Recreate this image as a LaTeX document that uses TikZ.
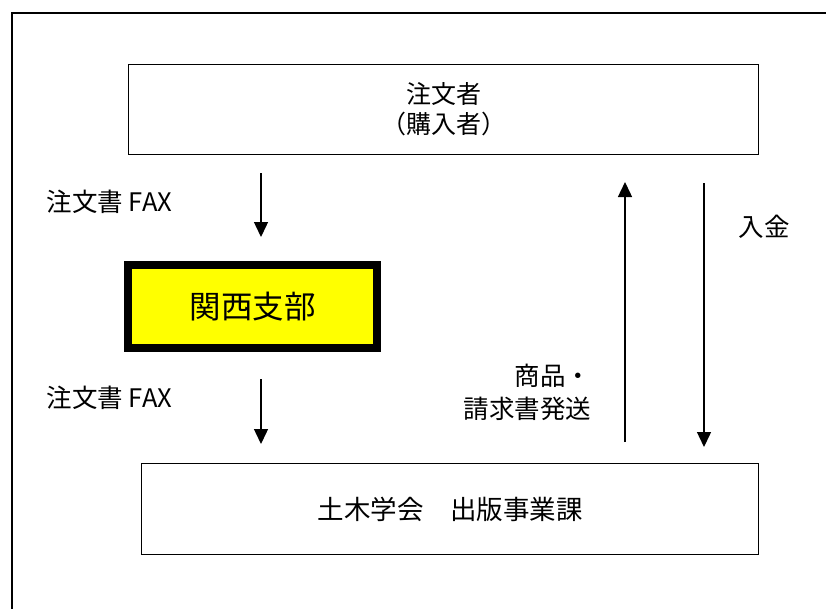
\documentclass[tikz,border=0pt]{standalone}
\usepackage{fontspec}
\setmainfont{Noto Sans CJK JP}
\usetikzlibrary{arrows.meta}

\definecolor{kansaiyellow}{RGB}{255,255,0}

\begin{document}
\begin{tikzpicture}[x=1pt,y=-1pt,>={Triangle[length=15pt,width=14pt]},line width=1.4pt]
  \tikzstyle{box}=[draw,line width=1.5pt,inner sep=0pt,font=\fontsize{25}{30}\selectfont,align=center]
  \tikzstyle{hot}=[draw,line width=8pt,fill=kansaiyellow,inner sep=0pt,font=\fontsize{31.5}{36}\selectfont]
  \tikzstyle{label}=[inner sep=0pt,font=\fontsize{25.5}{33}\selectfont]

  \clip (0,0) rectangle (826,608);
  \draw[line width=2pt] (840,13) -| (12,620);

  \node[box,minimum width=630pt,minimum height=90pt] (buyer) at (443.5,109.5) {注文者\\（購入者）};
  \node[hot,minimum width=249pt,minimum height=83pt] (kansai) at (252.5,306.5) {関西支部};
  \node[box,font=\fontsize{26.5}{30}\selectfont,minimum width=617pt,minimum height=91pt] (jsce) at (450,509) {土木学会　出版事業課};

  \foreach \name/\x/\from/\to in {fax-a/261/173/237, fax-b/261/379/444, ship/625/442/182, pay/704/183/447}
    { \coordinate (\name-s) at (\x,\from);
      \coordinate (\name-e) at (\x,\to);
      \draw[->] (\name-s) -- (\name-e); }

  \node[label] (fax-a-text) at (109.5,202) {注文書 FAX};
  \node[label] (fax-b-text) at (109.5,398) {注文書 FAX};
  \node[label,align=right,anchor=east] (ship-text) at (592,392) {商品・\\請求書発送};
  \node[label] (pay-text) at (764,227) {入金};
\end{tikzpicture}
\end{document}
